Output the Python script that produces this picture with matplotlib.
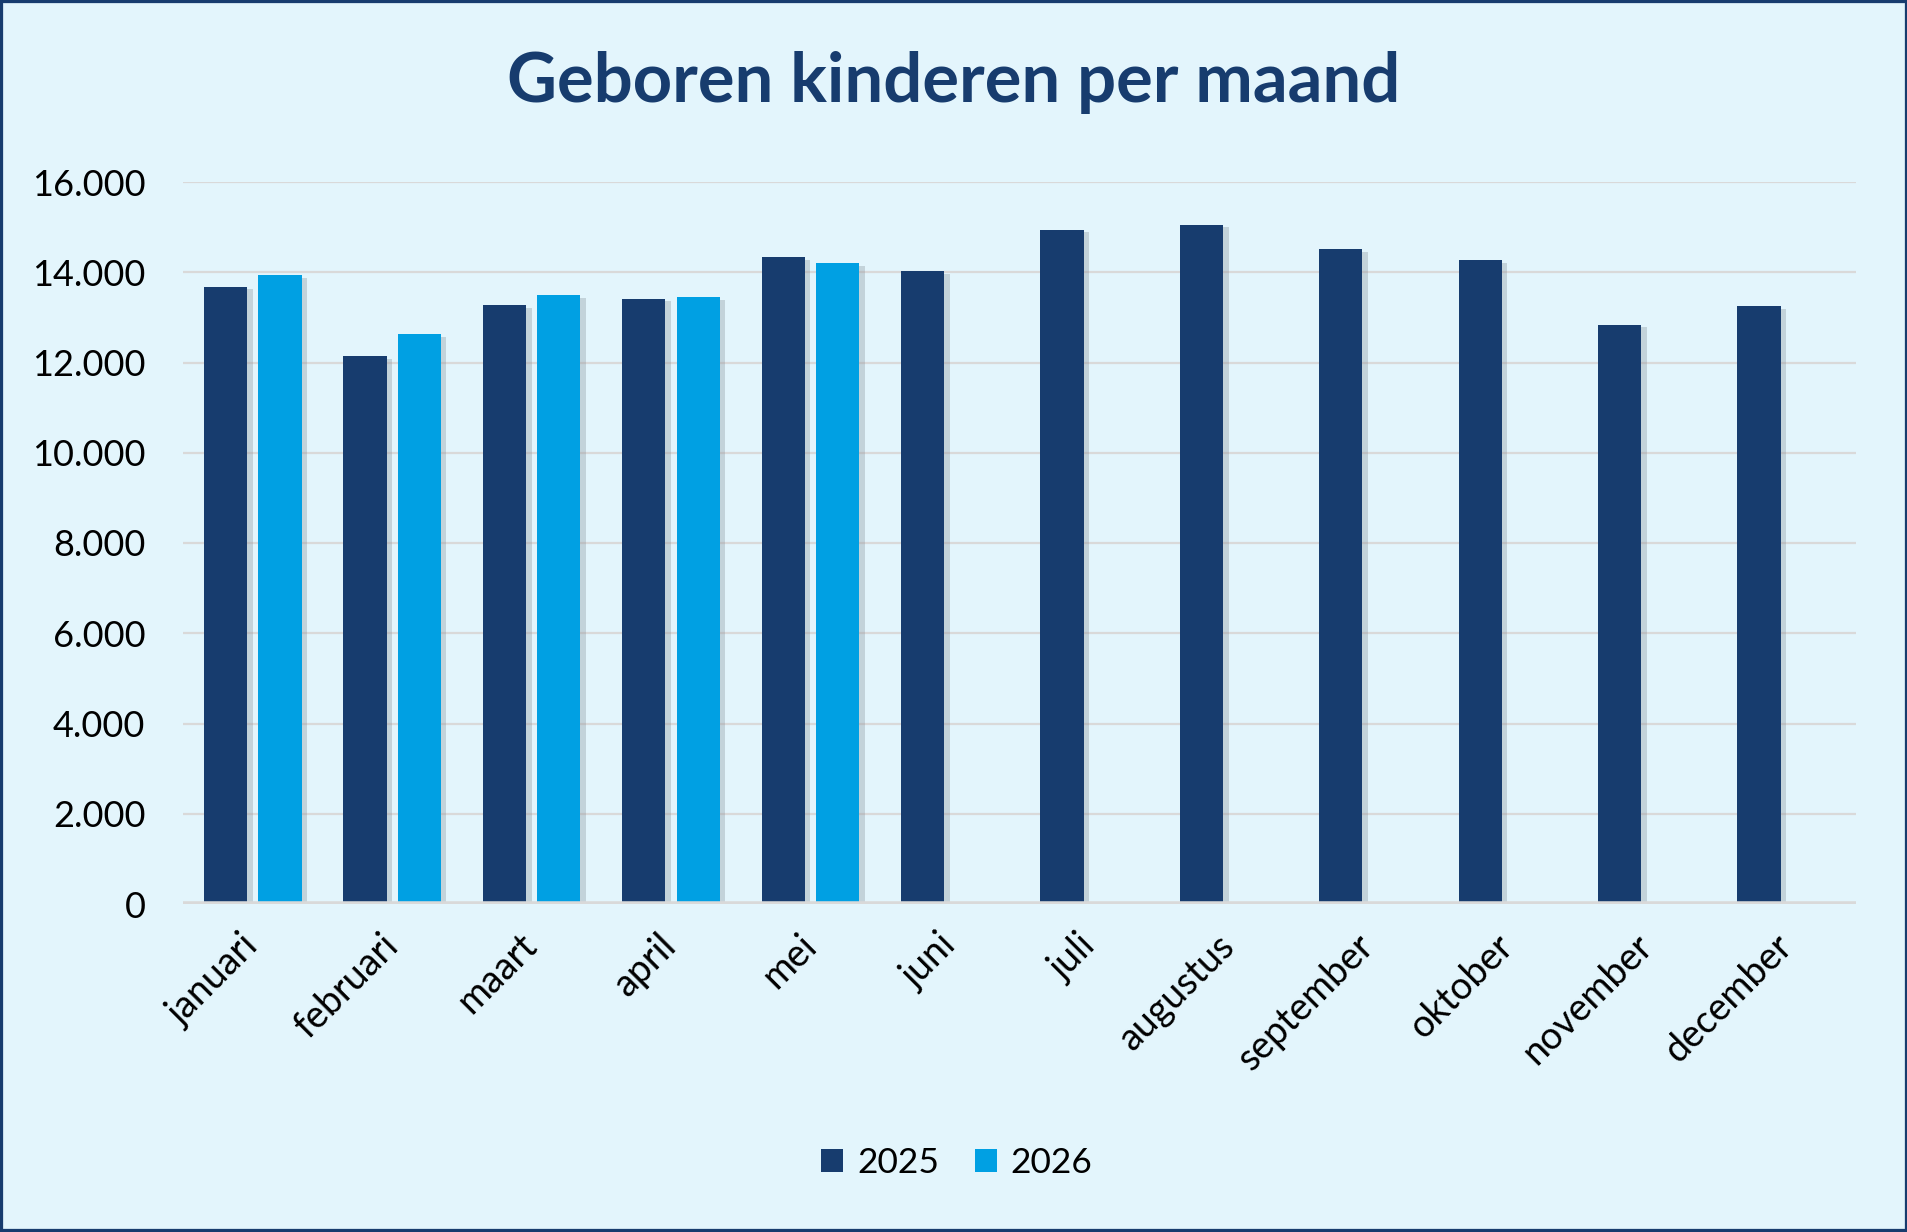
import matplotlib
matplotlib.use("Agg")
import matplotlib.pyplot as plt
import matplotlib.patheffects as pe
from matplotlib.patches import Patch, Rectangle
import numpy as np

months = ["januari", "februari", "maart", "april", "mei", "juni", "juli",
          "augustus", "september", "oktober", "november", "december"]
v2025 = [13680, 12140, 13270, 13415, 14335, 14030, 14945, 15055, 14505, 14275, 12840, 13250]
v2026 = [13930, 12635, 13485, 13455, 14195]
yticks = [0, 2000, 4000, 6000, 8000, 10000, 12000, 14000, 16000]
ytick_labels = ["0", "2.000", "4.000", "6.000", "8.000", "10.000", "12.000", "14.000", "16.000"]
title = "Geboren kinderen per maand"
series_names = ["2025", "2026"]

navy = "#173C6E"
light = "#00A0E3"
bg = "#E3F5FC"
grid = "#D9D9D9"
font = "Lato"

W, H = 1908, 1232
fig = plt.figure(figsize=(W / 100, H / 100), dpi=100, facecolor=bg)
fig.patches.append(Rectangle((0, 0), 1, 1, transform=fig.transFigure, fill=False,
                             edgecolor=navy, linewidth=4.5, zorder=10))

ax = fig.add_axes([183 / W, 1 - 904 / H, (1856 - 183) / W, (904 - 182) / H])
ax.set_facecolor(bg)
for s in ax.spines.values():
    s.set_visible(False)

x = np.arange(len(months))
bw = 0.31
off = 0.195
shadow = [pe.SimplePatchShadow(offset=(4, -2), shadow_rgbFace="#8a949b", alpha=0.35), pe.Normal()]
b1 = ax.bar(x - off, v2025, width=bw, color=navy, zorder=3)
b2 = ax.bar(x[:len(v2026)] + off, v2026, width=bw, color=light, zorder=3)
for b in list(b1) + list(b2):
    b.set_path_effects(shadow)

ax.set_xlim(-0.5, len(months) - 0.5)
ax.set_ylim(0, 16000)
ax.set_yticks(yticks)
ax.set_yticklabels(ytick_labels, fontsize=26, family=font, color="#000000")
ax.yaxis.grid(True, color=grid, linewidth=1.6, zorder=0)
ax.set_axisbelow(True)
ax.axhline(0, color=grid, linewidth=4, zorder=4)
ax.tick_params(axis="y", length=0, pad=27)
ax.tick_params(axis="x", length=0, pad=26)
ax.set_xticks(x)
ax.set_xticklabels(months, rotation=45, ha="right", va="center", rotation_mode="anchor",
                   fontsize=27, family=font, color="#000000")

fig.text(0.500, 1 - 82 / H, title, ha="center", va="center", fontsize=49.5,
         fontweight="bold", family=font, color=navy)

handles = [Patch(facecolor=navy, edgecolor="none"), Patch(facecolor=light, edgecolor="none")]
fig.legend(handles, series_names, loc="center", bbox_to_anchor=(0.5015, 1 - 1163 / H),
           ncol=2, frameon=False, prop={"family": font, "size": 25.5},
           handlelength=0.62, handleheight=0.62, handletextpad=0.4, columnspacing=1.0)

fig.savefig("out.png", dpi=100, facecolor=bg)
